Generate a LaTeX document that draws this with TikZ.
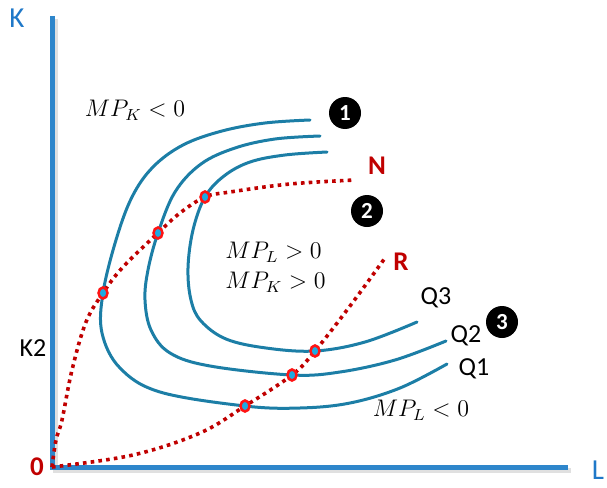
\documentclass[tikz,border=0pt]{standalone}
\usepackage{fontspec}
\setmainfont{Carlito}
\usetikzlibrary{calc}
\definecolor{axisblue}{RGB}{46,134,203}
\definecolor{labblue}{RGB}{31,120,200}
\definecolor{curveteal}{RGB}{28,126,166}
\definecolor{dotred}{RGB}{192,0,0}
\definecolor{markred}{RGB}{255,20,20}
\definecolor{markcyan}{RGB}{30,170,225}
\tikzset{
  axisline/.style={line width=5pt, axisblue},
  axisshadow/.style={line width=5pt, black, opacity=0.12},
  isoq/.style={line width=3pt, curveteal, line cap=round},
  dotpath/.style={line width=3.6pt, dotred, dash pattern=on 3.6pt off 4.2pt},
  markerring/.style={draw=markred, fill=markcyan, line width=2.5pt},
  numcirc/.style={circle, fill=black, text=white, minimum size=32pt, inner sep=0pt, font=\fontsize{23}{25}\selectfont\bfseries},
  sanslab/.style={font=\fontsize{26}{30}\selectfont, inner sep=0pt},
  mathlab/.style={font=\fontsize{12}{14}\selectfont, scale=2.0, inner sep=0pt},
  redlab/.style={font=\fontsize{27}{30}\selectfont\bfseries, text=dotred, inner sep=0pt},
}
\begin{document}
\begin{tikzpicture}[x=1pt,y=-1pt]
\useasboundingbox (0,0) rectangle (607,487);
% axes
\coordinate (O) at (52,467);
\coordinate (Ktop) at (52,16);
\coordinate (Lend) at (568,467);
\draw[axisshadow] ($(Ktop)+(3,3)$) -- ($(O)+(3,3)$) -- ($(Lend)+(3,3)$);
\draw[axisline] (Ktop) -- (O) -- (Lend);
\node[sanslab, text=labblue, font=\fontsize{29}{32}\selectfont] (K) at (17,18) {K};
\node[sanslab, text=labblue, font=\fontsize{29}{32}\selectfont] (L) at (598,470) {L};
\node[redlab] (zero) at (37,467) {0};
\node[sanslab] (K2) at (33,348) {K2};
% marker coordinates
\coordinate (n1) at (103,293);
\coordinate (n2) at (158,233);
\coordinate (n3) at (205,197);
\coordinate (r1) at (245,406);
\coordinate (r2) at (292,375);
\coordinate (r3) at (315,351);
% isoquants
\draw[isoq] plot[smooth, tension=0.6] coordinates {(310,120) (265,123) (222,131) (183,145) (153,167) (132,197) (116,240) (n1) (102,333) (120,368) (160,392) (r1) (300,408) (350,403) (400,388) (447,364)};
\draw[isoq] plot[smooth, tension=0.6] coordinates {(320,136) (275,139) (235,148) (201,164) (175,192) (n2) (148,270) (145,300) (151,330) (170,353) (210,366) (r2) (340,372) (395,360) (446,341)};
\draw[isoq] plot[smooth, tension=0.6] coordinates {(327,152) (285,155) (250,162) (224,176) (n3) (193,230) (188,268) (191,300) (201,321) (226,339) (266,348) (r3) (365,342) (417,322)};
% expansion paths
\coordinate (Nend) at (355,180);
\coordinate (Rend) at (385,258);
\draw[dotpath] plot[smooth, tension=0.6] coordinates {(O) (56,440) (62,420) (72,370) (86,322) (n1) (123,267) (n2) (180,213) (n3) (230,192) (290,184) (Nend)};
\draw[dotpath] plot[smooth, tension=0.6] coordinates {(O) (133,455) (200,433) (r1) (r2) (r3) (350,306) (Rend)};
% markers
\foreach \p in {n1,n2,n3,r1,r2,r3}{
  \draw[markerring] (\p) ellipse (4.5pt and 5.5pt);
}
% labels
\node[redlab] (N) at (377,166) {N};
\node[redlab] (R) at (401,262) {R};
\node[mathlab] (mpk1) at (135,110) {$MP_K<0$};
\node[mathlab, anchor=west] (mpl2) at (225,252) {$MP_L>0$};
\node[mathlab, anchor=west] (mpk2) at (225,282) {$MP_K>0$};
\node[mathlab] (mpl3) at (421,410) {$MP_L<0$};
\node[sanslab] (Q3) at (436,298) {Q3};
\node[sanslab] (Q2) at (466,336) {Q2};
\node[sanslab] (Q1) at (474,369) {Q1};
\node[numcirc] (c1) at (345,113) {1};
\node[numcirc] (c2) at (367,211) {2};
\node[numcirc] (c3) at (502,322) {3};
\end{tikzpicture}
\end{document}
